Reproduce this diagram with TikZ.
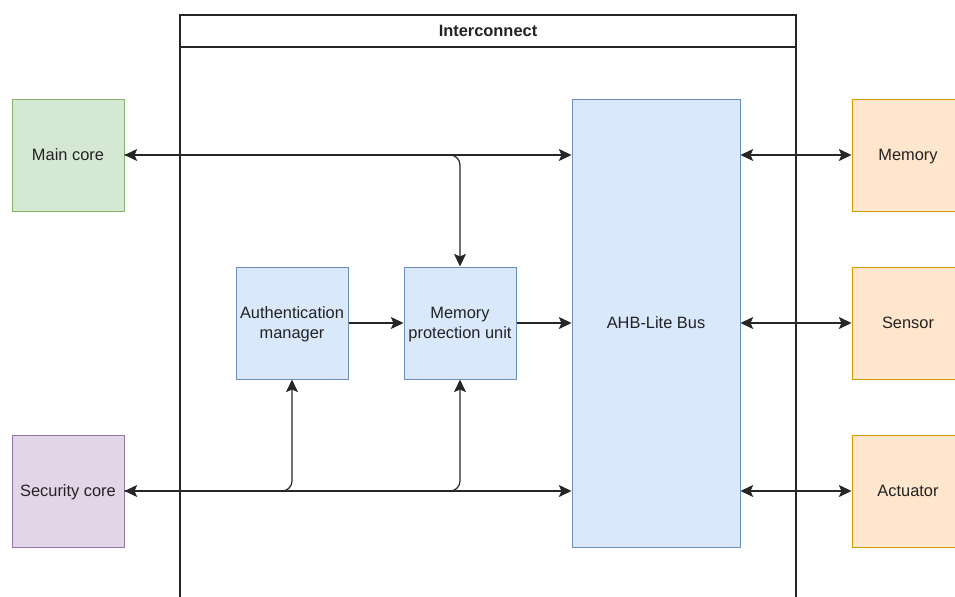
\documentclass[tikz,border=0pt]{standalone}
\usepackage{fontspec}
\setmainfont{Liberation Sans}
\usetikzlibrary{arrows.meta}
\definecolor{gfill}{HTML}{D5E8D4}\definecolor{gline}{HTML}{82B366}
\definecolor{pfill}{HTML}{E1D5E7}\definecolor{pline}{HTML}{9673A6}
\definecolor{bfill}{HTML}{DAE8FC}\definecolor{bline}{HTML}{6C8EBF}
\definecolor{ofill}{HTML}{FFE6CC}\definecolor{oline}{HTML}{D79B00}
\definecolor{txt}{HTML}{222222}
\tikzset{
  box/.style={draw, line width=0.75pt, minimum width=84pt, minimum height=84pt, inner sep=0pt, align=center, font=\fontsize{12.3}{15}\selectfont, text=txt, text depth=0pt},
  green/.style={box, fill=gfill, draw=gline},
  purple/.style={box, fill=pfill, draw=pline},
  blue/.style={box, fill=bfill, draw=bline},
  orange/.style={box, fill=ofill, draw=oline},
  tip/.tip={Stealth[length=9.5pt,width=9pt,inset=2pt]},
  conn/.style={line width=0.9pt, draw=black!85, -tip},
  bconn/.style={conn, tip-tip},
}
\begin{document}
\begin{tikzpicture}[x=0.75pt,y=-0.75pt]
\useasboundingbox (0,0) rectangle (955,596);
\clip (0,0) rectangle (955,596);
% container
\draw[line width=0.9pt, draw=black!85] (180,620) -- (180,15) -- (796,15) -- (796,620);
\draw[line width=0.9pt, draw=black!85] (180,47) -- (796,47);
\node[font=\fontsize{12.3}{14}\selectfont\bfseries, text=txt] (ic) at (488,31) {Interconnect};
% nodes
\node[green] (main) at (68,155) {Main core};
\node[purple] (sec) at (68,491) {Security core};
\node[blue] (auth) at (292,323) {Authentication\\manager};
\node[blue] (mpu) at (460,323) {Memory\\protection unit};
\node[blue, minimum width=126pt, minimum height=336pt] (bus) at (656,323) {AHB-Lite Bus};
\node[orange] (mem) at (908,155) {Memory};
\node[orange] (sen) at (908,323) {Sensor};
\node[orange] (act) at (908,491) {Actuator};
% connectors
\draw[conn, rounded corners=7.5pt] (main.east) -| (mpu.north);
\draw[bconn] (main.east) -- (main.east -| bus.west);
\draw[conn, rounded corners=7.5pt] (sec.east) -| (auth.south);
\draw[conn, rounded corners=7.5pt] (sec.east) -| (mpu.south);
\draw[bconn] (sec.east) -- (sec.east -| bus.west);
\draw[conn] (auth.east) -- (mpu.west);
\draw[conn] (mpu.east) -- (mpu.east -| bus.west);
\draw[bconn] (bus.east |- mem.west) -- (mem.west);
\draw[bconn] (bus.east |- sen.west) -- (sen.west);
\draw[bconn] (bus.east |- act.west) -- (act.west);
\end{tikzpicture}
\end{document}
